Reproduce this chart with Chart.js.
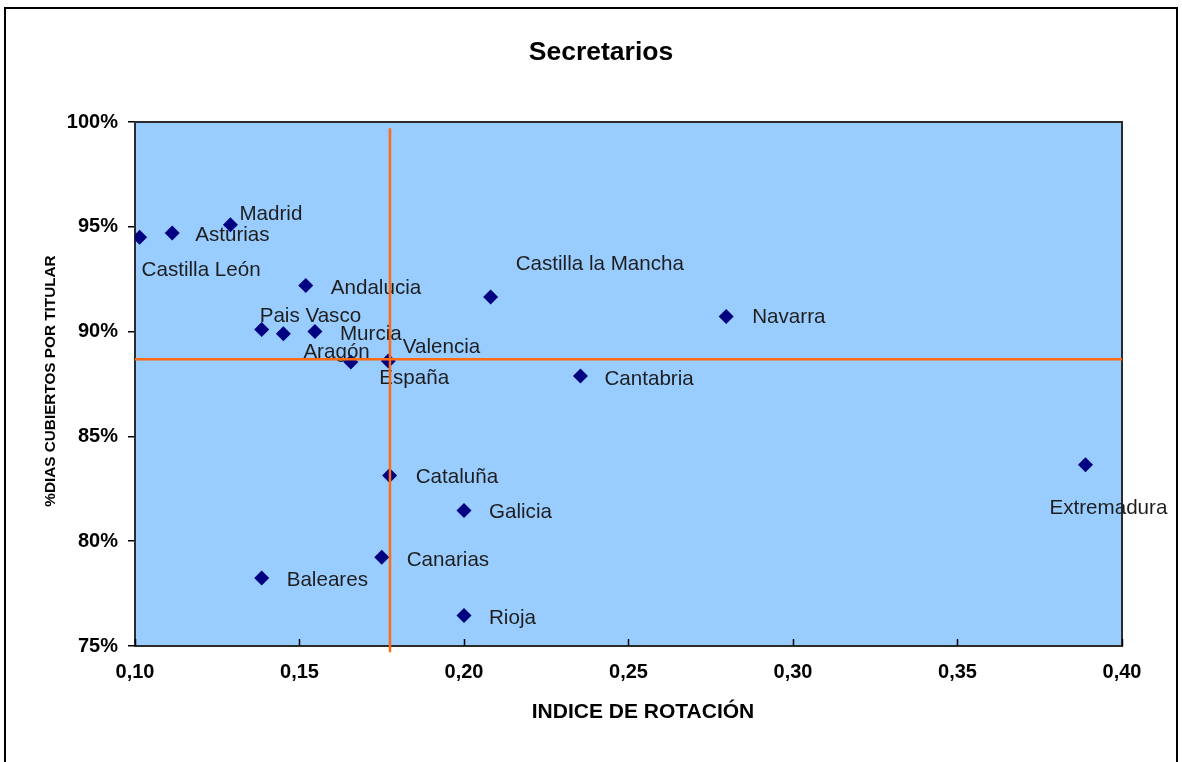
<!DOCTYPE html>
<html>
<head>
<meta charset="utf-8">
<script src="https://cdn.jsdelivr.net/npm/chart.js@4"></script>
<style>
html,body{margin:0;padding:0;background:#fff;overflow:hidden;}
#wrap{position:relative;width:1182px;height:762px;}
#frame{position:absolute;left:4px;top:7px;width:1174px;height:800px;border:2px solid #000;box-sizing:border-box;}
canvas{position:absolute;left:0;top:0;}
</style>
</head>
<body>
<div id="wrap"><div id="frame"></div><canvas id="c" width="1182" height="762"></canvas></div>
<script>
// ---- DATA ----
const regions = ['Castilla León','Asturias','Madrid','Andalucia','Pais Vasco','Aragón','Murcia','Valencia','España',
  'Castilla la Mancha','Navarra','Cantabria','Cataluña','Galicia','Canarias','Rioja','Baleares','Extremadura'];
const rotationIndex = [0.1014,0.1113,0.1290,0.1519,0.1385,0.1451,0.1547,0.1656,0.1770,
  0.2081,0.2797,0.2354,0.1774,0.2000,0.1750,0.2000,0.1385,0.3889];
const coveredPct = [94.5,94.7,95.1,92.2,90.1,89.9,90.0,88.55,88.6,
  91.65,90.72,87.88,83.14,81.47,79.23,76.46,78.24,83.65];
const refVerticalX = [0.1775,0.1775];
const refVerticalY = [99.7,74.7];
const refHorizontalX = [0.10,0.40];
const refHorizontalY = [88.68,88.68];
const xTickValues = [0.10,0.15,0.20,0.25,0.30,0.35,0.40];
const yTickValues = [75,80,85,90,95,100];
const chartTitle = 'Secretarios';
const xTitle = 'INDICE DE ROTACIÓN';
const yTitle = '%DIAS CUBIERTOS POR TITULAR';

// ---- STYLE: label offsets (px) from point centre to label left / middle ----
const labelOffsets = {
  'Castilla León':[2,32],'Asturias':[23,1],'Madrid':[9,-11],'Andalucia':[25,2],'Pais Vasco':[-2,-14],
  'Aragón':[20,18],'Murcia':[25,2],'Valencia':[52,-16],'España':[-9,16],'Castilla la Mancha':[25,-34],
  'Navarra':[26,0],'Cantabria':[24,2],'Cataluña':[26,1],'Galicia':[25,1],'Canarias':[25,2],
  'Rioja':[25,1.5],'Baleares':[25,1],'Extremadura':[-36,43]
};
const FONT = "'Liberation Sans', Arial, sans-serif";

const points = rotationIndex.map((x,i)=>({x:x,y:coveredPct[i]}));
const vLine = refVerticalX.map((x,i)=>({x:x,y:refVerticalY[i]}));
const hLine = refHorizontalX.map((x,i)=>({x:x,y:refHorizontalY[i]}));

const decor = {
  id:'decor',
  beforeDatasetsDraw(chart){
    const {ctx, chartArea:a} = chart;
    ctx.save();
    ctx.fillStyle = '#99CCFF';
    ctx.fillRect(a.left, a.top, a.right-a.left, a.bottom-a.top);
    ctx.strokeStyle = '#2b2b2b';
    ctx.lineWidth = 2;
    ctx.strokeRect(a.left, a.top, a.right-a.left, a.bottom-a.top);
    const xs = chart.scales.x;
    ctx.strokeStyle = '#000';
    ctx.lineWidth = 1.5;
    xTickValues.forEach(v=>{
      const px = Math.round(xs.getPixelForValue(v))+0.5;
      ctx.beginPath(); ctx.moveTo(px, a.bottom); ctx.lineTo(px, a.bottom-7); ctx.stroke();
    });
    ctx.restore();
  },
  afterDatasetDraw(chart, args){
    if (args.index !== 2) return;
    const ctx = chart.ctx;
    const meta = chart.getDatasetMeta(2);
    ctx.save();
    ctx.font = '20.6px ' + FONT;
    ctx.fillStyle = '#1e1e1e';
    ctx.textBaseline = 'middle';
    ctx.textAlign = 'left';
    meta.data.forEach((el,i)=>{
      const off = labelOffsets[regions[i]] || [25,1];
      ctx.fillText(regions[i], el.x + off[0], el.y + off[1] + 1);
    });
    ctx.restore();
  },
  afterDraw(chart){
    const ctx = chart.ctx;
    ctx.save();
    ctx.fillStyle = '#000';
    ctx.textAlign = 'center';
    ctx.textBaseline = 'middle';
    ctx.font = 'bold 26.5px ' + FONT;
    ctx.fillText(chartTitle, 601, 53);
    ctx.font = 'bold 21px ' + FONT;
    ctx.fillText(xTitle, 643, 712);
    ctx.translate(51, 381);
    ctx.rotate(-Math.PI/2);
    ctx.font = 'bold 15.3px ' + FONT;
    ctx.fillText(yTitle, 0, 0);
    ctx.restore();
  }
};

new Chart(document.getElementById('c'), {
  type:'scatter',
  data:{
    datasets:[
      {type:'line', data:vLine, borderColor:'#FF6A13', borderWidth:2.5, pointRadius:0, fill:false, clip:false},
      {type:'line', data:hLine, borderColor:'#FF6A13', borderWidth:2.5, pointRadius:0, fill:false, clip:false},
      {data:points, pointStyle:'rectRot', pointRadius:7.5, pointHoverRadius:7.5,
       backgroundColor:'#000080', borderColor:'#000080', borderWidth:0}
    ]
  },
  options:{
    responsive:false,
    animation:false,
    devicePixelRatio:1,
    layout:{padding:{top:122,right:60,left:0,bottom:0}},
    plugins:{legend:{display:false}, title:{display:false}, tooltip:{enabled:false}},
    scales:{
      x:{
        type:'linear', min:0.10, max:0.40,
        afterBuildTicks(s){ s.ticks = xTickValues.map(v=>({value:v})); },
        afterFit(s){ s.height = 116; },
        grid:{display:false, drawTicks:false},
        border:{display:false},
        ticks:{color:'#000', font:{family:FONT, size:20, weight:'bold'}, padding:14,
          callback:(v)=>Number(v).toFixed(2).replace('.',',')}
      },
      y:{
        type:'linear', min:75, max:100,
        afterBuildTicks(s){ s.ticks = yTickValues.map(v=>({value:v})); },
        afterFit(s){ s.width = 135; },
        grid:{display:true, drawOnChartArea:false, drawTicks:true, tickLength:7, color:'#000', lineWidth:1.5},
        border:{display:false},
        ticks:{color:'#000', font:{family:FONT, size:20, weight:'bold'}, padding:10,
          callback:(v)=>v+'%'}
      }
    }
  },
  plugins:[decor]
});
</script>
</body>
</html>
